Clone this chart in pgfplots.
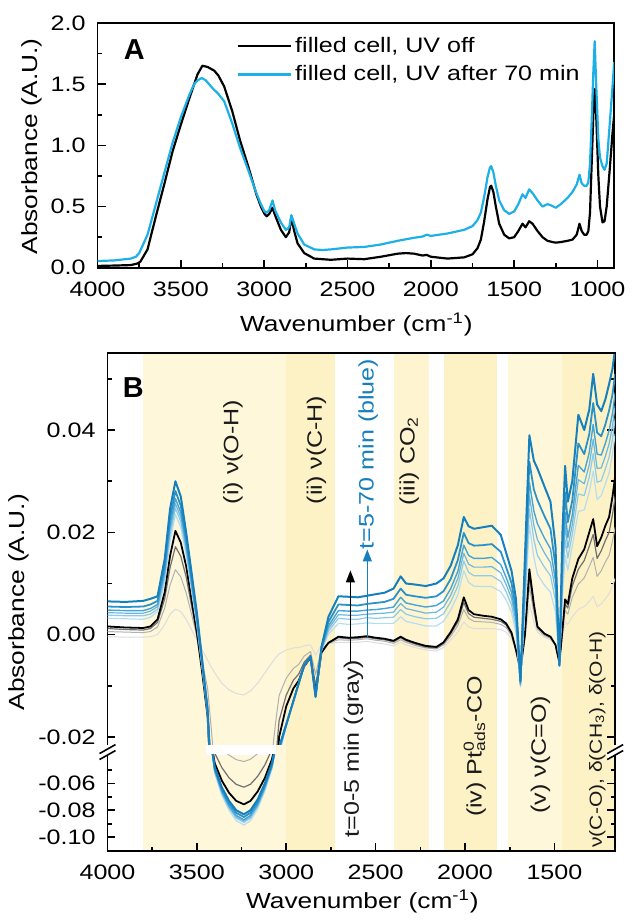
\documentclass[border=0pt]{standalone}
\usepackage{pgfplots}
\pgfplotsset{compat=1.18}
\usepackage{pgfplotstable}
\usetikzlibrary{arrows.meta}
\usepackage{fontspec}
\setmainfont{Liberation Sans}[FakeStretch=1.2]
\newfontfamily\panelfont{Liberation Sans}

\definecolor{uvblue}{HTML}{1CB0E6}
\definecolor{bandL}{HTML}{FEF7DA}
\definecolor{bandM}{HTML}{FEF4D0}
\definecolor{bandD}{HTML}{FDF2C6}
\definecolor{cg0}{HTML}{DDDDDD}
\definecolor{cg1}{HTML}{B0B0B0}
\definecolor{cg2}{HTML}{707070}
\definecolor{cb1}{HTML}{B5DDF2}
\definecolor{cb2}{HTML}{8DCAEB}
\definecolor{cb3}{HTML}{6AB8E2}
\definecolor{cb4}{HTML}{46A5D6}
\definecolor{cb5}{HTML}{2B92C9}
\definecolor{cb6}{HTML}{1580BD}
\definecolor{txt}{HTML}{1A1A1A}

\pgfplotstableread{
x g0 g1 g2 k b1 b2 b3 b4 b5 b6
4000 -0.0004 0.0006 0.0012 0.0016 0.0032 0.0038 0.0043 0.0048 0.0055 0.0065
3900 -0.0005 0.0005 0.0010 0.0014 0.0031 0.0037 0.0042 0.0047 0.0054 0.0064
3800 -0.0005 0.0004 0.0009 0.0013 0.0030 0.0037 0.0042 0.0047 0.0055 0.0066
3760 -0.0004 0.0006 0.0012 0.0016 0.0034 0.0040 0.0046 0.0051 0.0059 0.0070
3720 0.0000 0.0015 0.0024 0.0030 0.0045 0.0050 0.0055 0.0059 0.0066 0.0075
3680 0.0020 0.0052 0.0070 0.0083 0.0104 0.0112 0.0119 0.0125 0.0135 0.0148
3650 0.0040 0.0097 0.0131 0.0154 0.0184 0.0195 0.0205 0.0214 0.0228 0.0246
3620 0.0050 0.0127 0.0172 0.0203 0.0235 0.0247 0.0256 0.0266 0.0281 0.0300
3590 0.0045 0.0113 0.0153 0.0180 0.0210 0.0221 0.0230 0.0239 0.0252 0.0270
3560 0.0030 0.0082 0.0113 0.0134 0.0156 0.0164 0.0170 0.0177 0.0187 0.0200
3530 0.0010 0.0040 0.0057 0.0069 0.0086 0.0093 0.0098 0.0103 0.0111 0.0122
3500 -0.0010 -0.0003 0.0001 0.0004 0.0017 0.0022 0.0025 0.0029 0.0035 0.0043
3470 -0.0030 -0.0053 -0.0066 -0.0075 -0.0067 -0.0064 -0.0061 -0.0059 -0.0055 -0.0050
3440 -0.0050 -0.0105 -0.0138 -0.0160 -0.0156 -0.0155 -0.0153 -0.0152 -0.0150 -0.0148
3420 -0.0063 -0.0182 -0.0253 -0.0300 -0.0320 -0.0315 -0.0312 -0.0310 -0.0305 -0.0300
3400 -0.0075 -0.0263 -0.0375 -0.0450 -0.0526 -0.0515 -0.0509 -0.0503 -0.0492 -0.0480
3360 -0.0095 -0.0338 -0.0483 -0.0580 -0.0690 -0.0675 -0.0668 -0.0660 -0.0645 -0.0630
3320 -0.0108 -0.0389 -0.0558 -0.0670 -0.0800 -0.0783 -0.0774 -0.0765 -0.0748 -0.0730
3280 -0.0115 -0.0423 -0.0607 -0.0730 -0.0877 -0.0858 -0.0848 -0.0838 -0.0819 -0.0800
3237 -0.0118 -0.0437 -0.0628 -0.0756 -0.0910 -0.0890 -0.0880 -0.0870 -0.0850 -0.0830
3200 -0.0110 -0.0420 -0.0606 -0.0730 -0.0877 -0.0858 -0.0848 -0.0838 -0.0819 -0.0800
3160 -0.0095 -0.0378 -0.0547 -0.0660 -0.0789 -0.0772 -0.0763 -0.0755 -0.0737 -0.0720
3120 -0.0075 -0.0318 -0.0463 -0.0560 -0.0658 -0.0643 -0.0636 -0.0629 -0.0614 -0.0600
3080 -0.0055 -0.0238 -0.0347 -0.0420 -0.0493 -0.0482 -0.0477 -0.0472 -0.0461 -0.0450
3060 -0.0045 -0.0173 -0.0249 -0.0300 -0.0351 -0.0343 -0.0339 -0.0335 -0.0328 -0.0320
3040 -0.0038 -0.0119 -0.0168 -0.0200 -0.0235 -0.0230 -0.0228 -0.0226 -0.0223 -0.0220
3000 -0.0030 -0.0085 -0.0118 -0.0140 -0.0180 -0.0179 -0.0178 -0.0177 -0.0176 -0.0175
2960 -0.0026 -0.0066 -0.0089 -0.0105 -0.0128 -0.0128 -0.0129 -0.0129 -0.0130 -0.0130
2930 -0.0025 -0.0058 -0.0077 -0.0090 -0.0093 -0.0094 -0.0094 -0.0095 -0.0095 -0.0095
2900 -0.0022 -0.0042 -0.0054 -0.0062 -0.0061 -0.0061 -0.0061 -0.0060 -0.0060 -0.0060
2864 -0.0020 -0.0033 -0.0040 -0.0045 -0.0044 -0.0044 -0.0044 -0.0043 -0.0043 -0.0043
2836 -0.0040 -0.0078 -0.0100 -0.0115 -0.0117 -0.0118 -0.0119 -0.0120 -0.0121 -0.0122
2803 -0.0020 -0.0028 -0.0032 -0.0035 -0.0031 -0.0030 -0.0029 -0.0028 -0.0026 -0.0024
2764 -0.0018 -0.0017 -0.0016 -0.0016 0.0001 0.0007 0.0012 0.0017 0.0025 0.0035
2708 -0.0015 -0.0010 -0.0006 -0.0004 0.0022 0.0032 0.0039 0.0047 0.0059 0.0075
2650 -0.0015 -0.0011 -0.0008 -0.0006 0.0020 0.0030 0.0038 0.0046 0.0058 0.0074
2600 -0.0015 -0.0010 -0.0007 -0.0005 0.0021 0.0030 0.0038 0.0046 0.0057 0.0073
2550 -0.0013 -0.0008 -0.0005 -0.0003 0.0023 0.0033 0.0040 0.0048 0.0060 0.0076
2500 -0.0016 -0.0011 -0.0008 -0.0006 0.0022 0.0032 0.0041 0.0049 0.0062 0.0079
2450 -0.0018 -0.0013 -0.0010 -0.0008 0.0022 0.0033 0.0042 0.0051 0.0064 0.0082
2400 -0.0022 -0.0017 -0.0014 -0.0012 0.0022 0.0034 0.0044 0.0054 0.0070 0.0090
2360 -0.0015 -0.0010 -0.0006 -0.0004 0.0035 0.0049 0.0061 0.0073 0.0090 0.0114
2330 -0.0020 -0.0015 -0.0012 -0.0010 0.0026 0.0040 0.0051 0.0062 0.0078 0.0100
2280 -0.0025 -0.0021 -0.0018 -0.0016 0.0022 0.0035 0.0047 0.0058 0.0075 0.0098
2220 -0.0030 -0.0026 -0.0024 -0.0022 0.0017 0.0031 0.0042 0.0054 0.0072 0.0095
2160 -0.0032 -0.0028 -0.0026 -0.0024 0.0017 0.0032 0.0044 0.0057 0.0075 0.0100
2120 -0.0025 -0.0020 -0.0017 -0.0015 0.0026 0.0041 0.0054 0.0066 0.0085 0.0110
2080 -0.0010 -0.0003 0.0002 0.0005 0.0048 0.0064 0.0077 0.0090 0.0109 0.0135
2040 0.0005 0.0018 0.0025 0.0030 0.0078 0.0095 0.0110 0.0124 0.0146 0.0175
2007 0.0025 0.0049 0.0063 0.0073 0.0125 0.0144 0.0159 0.0175 0.0199 0.0230
1980 0.0015 0.0032 0.0041 0.0048 0.0102 0.0122 0.0138 0.0155 0.0179 0.0212
1950 0.0012 0.0026 0.0034 0.0040 0.0095 0.0115 0.0132 0.0149 0.0174 0.0207
1900 0.0012 0.0025 0.0032 0.0037 0.0094 0.0115 0.0132 0.0149 0.0175 0.0210
1850 0.0012 0.0024 0.0030 0.0035 0.0094 0.0115 0.0133 0.0151 0.0177 0.0213
1800 0.0010 0.0020 0.0026 0.0030 0.0084 0.0104 0.0121 0.0137 0.0162 0.0195
1770 0.0005 0.0014 0.0019 0.0022 0.0068 0.0084 0.0098 0.0112 0.0132 0.0160
1740 -0.0008 -0.0002 0.0002 0.0004 0.0044 0.0058 0.0071 0.0083 0.0101 0.0125
1715 -0.0030 -0.0030 -0.0030 -0.0030 0.0003 0.0015 0.0025 0.0035 0.0050 0.0070
1690 -0.0055 -0.0063 -0.0067 -0.0070 -0.0102 -0.0100 -0.0098 -0.0096 -0.0093 -0.0090
1665 -0.0010 -0.0005 -0.0002 0.0000 0.0050 0.0068 0.0083 0.0098 0.0120 0.0150
1640 0.0060 0.0094 0.0114 0.0128 0.0214 0.0246 0.0272 0.0298 0.0338 0.0390
1615 0.0025 0.0043 0.0053 0.0060 0.0152 0.0186 0.0214 0.0242 0.0284 0.0340
1595 0.0005 0.0011 0.0014 0.0016 0.0118 0.0155 0.0186 0.0217 0.0263 0.0325
1556 -0.0005 -0.0002 0.0001 0.0002 0.0097 0.0132 0.0160 0.0189 0.0232 0.0290
1522 -0.0010 -0.0007 -0.0005 -0.0004 0.0083 0.0115 0.0141 0.0168 0.0207 0.0260
1494 -0.0020 -0.0020 -0.0020 -0.0020 0.0044 0.0067 0.0086 0.0105 0.0134 0.0173
1472 -0.0040 -0.0048 -0.0052 -0.0055 -0.0062 -0.0062 -0.0061 -0.0061 -0.0060 -0.0060
1455 -0.0005 0.0003 0.0007 0.0010 0.0073 0.0096 0.0115 0.0134 0.0162 0.0200
1440 0.0025 0.0047 0.0060 0.0069 0.0155 0.0186 0.0213 0.0239 0.0278 0.0330
1425 0.0020 0.0040 0.0052 0.0060 0.0126 0.0150 0.0170 0.0190 0.0220 0.0260
1400 0.0035 0.0073 0.0095 0.0110 0.0173 0.0196 0.0215 0.0234 0.0262 0.0300
1366 0.0050 0.0099 0.0128 0.0148 0.0241 0.0275 0.0303 0.0331 0.0374 0.0430
1333 0.0055 0.0111 0.0145 0.0167 0.0244 0.0272 0.0295 0.0318 0.0353 0.0400
1305 0.0065 0.0133 0.0173 0.0200 0.0279 0.0308 0.0332 0.0356 0.0392 0.0440
1283 0.0075 0.0151 0.0196 0.0226 0.0320 0.0354 0.0382 0.0411 0.0453 0.0510
1261 0.0055 0.0114 0.0149 0.0173 0.0264 0.0298 0.0325 0.0353 0.0395 0.0450
1238 0.0060 0.0125 0.0164 0.0190 0.0272 0.0301 0.0326 0.0351 0.0388 0.0437
1215 0.0070 0.0142 0.0184 0.0213 0.0295 0.0324 0.0349 0.0374 0.0411 0.0460
1194 0.0080 0.0155 0.0200 0.0230 0.0316 0.0347 0.0373 0.0399 0.0438 0.0490
1175 0.0095 0.0183 0.0235 0.0270 0.0353 0.0383 0.0408 0.0433 0.0470 0.0520
1160 0.0110 0.0210 0.0270 0.0310 0.0393 0.0423 0.0448 0.0473 0.0510 0.0560
}\specB

\newcommand{\Bcurves}{%
\addplot[cg0, line width=0.5pt] table[x=x,y=g0]{\specB};
\addplot[cg1, line width=0.5pt] table[x=x,y=g1]{\specB};
\addplot[cg2, line width=0.6pt] table[x=x,y=g2]{\specB};
\addplot[black, line width=0.9pt] table[x=x,y=k]{\specB};
\addplot[cb1, line width=0.6pt] table[x=x,y=b1]{\specB};
\addplot[cb2, line width=0.6pt] table[x=x,y=b2]{\specB};
\addplot[cb3, line width=0.6pt] table[x=x,y=b3]{\specB};
\addplot[cb4, line width=0.7pt] table[x=x,y=b4]{\specB};
\addplot[cb5, line width=0.9pt] table[x=x,y=b5]{\specB};
\addplot[cb6, line width=1.0pt] table[x=x,y=b6]{\specB};
}

\pgfplotsset{
  myaxis/.style={
    scale only axis, x dir=reverse,
    scaled x ticks=false, scaled y ticks=false,
    axis line style={line width=0.9pt},
    tick align=inside,
    major tick length=4pt, minor tick length=2.2pt,
    every tick/.append style={black, line width=0.8pt},
    tick label style={font=\fontsize{10.5}{12}\selectfont},
    xticklabel style={/pgf/number format/1000 sep={}, /pgf/number format/assume math mode=true, yshift=-3.5pt},
    yticklabel style={/pgf/number format/assume math mode=true, xshift=-2.5pt},
    every axis plot/.append style={mark=none, line join=round},
  }
}

\begin{document}
\begin{tikzpicture}
\begin{scope}[x=0.5pt,y=-0.5pt]
\path[use as bounding box] (0,0) rectangle (631,920);
\end{scope}

% ---------- panel B : bands ----------
\begin{axis}[scale only axis, at={(54pt,-177.5pt)}, anchor=north west,
  width=255pt, height=250pt, xmin=1160, xmax=4000, x dir=reverse,
  ymin=0, ymax=1, hide axis]
\addplot[fill=bandL, draw=none] coordinates {(3800,1) (3000,1)} \closedcycle;
\addplot[fill=bandD, draw=none] coordinates {(3000,1) (2725,1)} \closedcycle;
\addplot[fill=bandM, draw=none] coordinates {(2400,1) (2200,1)} \closedcycle;
\addplot[fill=bandD, draw=none] coordinates {(2120,1) (1820,1)} \closedcycle;
\addplot[fill=bandL, draw=none] coordinates {(1760,1) (1455,1)} \closedcycle;
\addplot[fill=bandD, draw=none] coordinates {(1455,1) (1160,1)} \closedcycle;
\fill[white] (axis cs:3450,0.194) rectangle (axis cs:3055,0.214);
\end{axis}

% ---------- panel B : upper part ----------
\begin{axis}[myaxis, name=Bup, at={(54pt,-177.5pt)}, anchor=north west,
  width=255pt, height=196.5pt,
  xmin=1160, xmax=4000, ymin=-0.0215, ymax=0.055,
  xtick=\empty,
  ytick={-0.02,0,0.02,0.04}, minor ytick={-0.01,0.01,0.03,0.05},
  ytick pos=both, yticklabel pos=left,
  separate axis lines, x axis line style={draw=none},
  yticklabel style={/pgf/number format/fixed, /pgf/number format/fixed zerofill, /pgf/number format/precision=2}]
\Bcurves
\end{axis}

% ---------- panel B : lower part ----------
\begin{axis}[myaxis, name=Blo, at={(54pt,-379pt)}, anchor=north west,
  width=255pt, height=48.5pt,
  xmin=1160, xmax=4000, ymin=-0.1104, ymax=-0.0385,
  xtick={1500,2000,2500,3000,3500,4000}, minor x tick num=1, xtick pos=bottom,
  ytick={-0.10,-0.08,-0.06}, minor ytick={-0.09,-0.07,-0.05},
  ytick pos=both, yticklabel pos=left,
  separate axis lines, x axis line style={draw=none},
  yticklabel style={/pgf/number format/fixed, /pgf/number format/fixed zerofill, /pgf/number format/precision=2}]
\Bcurves
\end{axis}
\draw[line width=0.9pt, line cap=rect] (Bup.north west) -- (Bup.north east);
\draw[line width=0.9pt, line cap=rect] (Blo.south west) -- (Blo.south east);

% ---------- panel A ----------
\begin{axis}[myaxis, name=A, at={(49pt,-11.5pt)}, anchor=north west,
  width=259.5pt, height=123pt,
  xmin=900, xmax=4000, ymin=0, ymax=2,
  xtick={1000,1500,2000,2500,3000,3500,4000}, minor x tick num=1,
  ytick={0,0.5,1,1.5,2}, minor y tick num=1,
  xtick pos=bottom, ytick pos=left,
  yticklabel style={/pgf/number format/fixed, /pgf/number format/fixed zerofill, /pgf/number format/precision=1},
  legend style={at={(0.2697,0.955)}, anchor=north west, draw=none, fill=none,
    inner sep=0pt, row sep=2pt, font=\fontsize{10.5}{12}\selectfont, nodes={inner sep=1.5pt}},
  legend cell align=left,
  legend image code/.code={\draw[#1] (0pt,0pt) -- (26.5pt,0pt);}]
\addplot[black, line width=1.1pt] coordinates {
(4000,0.015)(3900,0.018)(3800,0.022)(3760,0.035)(3743,0.05)(3700,0.15)(3650,0.42)(3600,0.68)(3550,0.95)(3500,1.17)(3450,1.38)(3420,1.50)(3400,1.58)(3371,1.65)(3340,1.64)(3300,1.61)(3275,1.57)(3240,1.48)(3192,1.28)(3145,1.04)(3094,0.82)(3047,0.60)(3020,0.50)(2998,0.44)(2985,0.42)(2970,0.44)(2950,0.49)(2935,0.43)(2900,0.31)(2870,0.25)(2850,0.29)(2837,0.41)(2820,0.30)(2800,0.20)(2760,0.12)(2700,0.075)(2600,0.065)(2500,0.075)(2400,0.07)(2300,0.09)(2200,0.115)(2150,0.12)(2100,0.115)(2050,0.10)(2025,0.105)(2000,0.09)(1900,0.075)(1800,0.085)(1750,0.11)(1720,0.16)(1700,0.23)(1680,0.38)(1660,0.56)(1645,0.66)(1638,0.67)(1625,0.62)(1610,0.50)(1590,0.36)(1560,0.27)(1530,0.24)(1500,0.25)(1475,0.30)(1450,0.36)(1432,0.33)(1410,0.38)(1390,0.36)(1360,0.30)(1330,0.25)(1300,0.22)(1270,0.21)(1250,0.205)(1220,0.21)(1180,0.22)(1150,0.23)(1125,0.27)(1108,0.36)(1095,0.30)(1080,0.27)(1065,0.27)(1055,0.30)(1045,0.45)(1035,0.85)(1025,1.25)(1017,1.46)(1008,1.25)(995,0.75)(985,0.50)(970,0.37)(958,0.38)(945,0.50)(928,0.78)(910,1.10)(900,1.25)};
\addlegendentry{filled cell, UV off}
\addplot[uvblue, line width=1.1pt] coordinates {
(4000,0.055)(3900,0.06)(3800,0.075)(3770,0.09)(3750,0.12)(3700,0.27)(3650,0.52)(3600,0.77)(3550,1.02)(3500,1.23)(3450,1.41)(3420,1.50)(3400,1.53)(3375,1.55)(3350,1.53)(3312,1.47)(3275,1.42)(3240,1.36)(3192,1.18)(3145,0.98)(3094,0.79)(3047,0.61)(3020,0.52)(2998,0.46)(2985,0.45)(2970,0.47)(2950,0.55)(2935,0.47)(2900,0.37)(2870,0.31)(2850,0.33)(2837,0.43)(2820,0.36)(2800,0.28)(2760,0.19)(2700,0.15)(2650,0.145)(2600,0.15)(2500,0.165)(2400,0.17)(2300,0.19)(2200,0.22)(2100,0.245)(2050,0.255)(2025,0.27)(2000,0.26)(1900,0.28)(1800,0.31)(1750,0.34)(1720,0.39)(1700,0.45)(1680,0.58)(1660,0.74)(1645,0.82)(1638,0.83)(1625,0.78)(1610,0.67)(1590,0.55)(1560,0.47)(1530,0.44)(1500,0.46)(1475,0.52)(1450,0.60)(1432,0.57)(1410,0.64)(1390,0.61)(1360,0.55)(1330,0.50)(1300,0.52)(1280,0.51)(1250,0.49)(1220,0.52)(1180,0.57)(1150,0.62)(1125,0.68)(1108,0.76)(1095,0.69)(1080,0.67)(1065,0.67)(1055,0.70)(1045,0.85)(1035,1.20)(1025,1.60)(1017,1.85)(1008,1.50)(995,1.05)(985,0.90)(970,0.83)(958,0.80)(945,0.85)(928,1.15)(910,1.48)(900,1.68)};
\addlegendentry{filled cell, UV after 70 min}
\end{axis}

% ---------- overlays ----------
\begin{scope}[x=0.5pt,y=-0.5pt]
% axis break marks
\foreach \xx in {100,610}{
  \fill[white] (\xx,757) -- (\xx+16,748) -- (\xx+16,754) -- (\xx,763) -- cycle;
  \draw[line width=0.8pt] (\xx,757) -- (\xx+16,748);
  \draw[line width=0.8pt] (\xx,763) -- (\xx+16,754);
}
% panel letters
\node[font=\panelfont\bfseries\fontsize{14.5}{16}\selectfont] at (135,50) {A};
\node[font=\panelfont\bfseries\fontsize{14.5}{16}\selectfont] at (134,389) {B};
% axis titles
\node[rotate=90, font=\fontsize{11}{13}\selectfont] at (32,147) {Absorbance (A.U.)};
\node[rotate=90, font=\fontsize{11}{13}\selectfont] at (19,605) {Absorbance (A.U.)};
\node[anchor=base, font=\fontsize{11}{13}\selectfont] at (358,333) {Wavenumber (cm\textsuperscript{-1})};
\node[anchor=base, font=\fontsize{11}{13}\selectfont] at (364,913) {Wavenumber (cm\textsuperscript{-1})};
% band annotations
\begin{scope}[every node/.style={rotate=90, text=txt, font=\fontsize{10.5}{12}\selectfont}]
\node at (234,454) {(i) ν(O-H)};
\node at (318,452) {(ii) ν(C-H)};
\node at (411,463) {(iii) CO\textsubscript{2}};
\node at (355,752) {t=0-5 min (gray)};
\node at (477,750) {(iv) Pt\rlap{\textsuperscript{0}}\textsubscript{ads}-CO};
\node at (543,758) {(v) ν(C=O)};
\node[font=\fontsize{8.8}{10}\selectfont] at (600,743) {ν(C-O), δ(CH\textsubscript{3}), δ(O-H)};
\node[text=cb6] at (370,456) {t=5-70 min (blue)};
\end{scope}
\draw[line width=0.6pt, -{Triangle[length=6pt,width=4.5pt]}] (352,665) -- (352,573);
\draw[cb6, line width=0.6pt, -{Triangle[length=6pt,width=4.5pt]}] (369,640) -- (369,552);
\end{scope}
\end{tikzpicture}
\end{document}
